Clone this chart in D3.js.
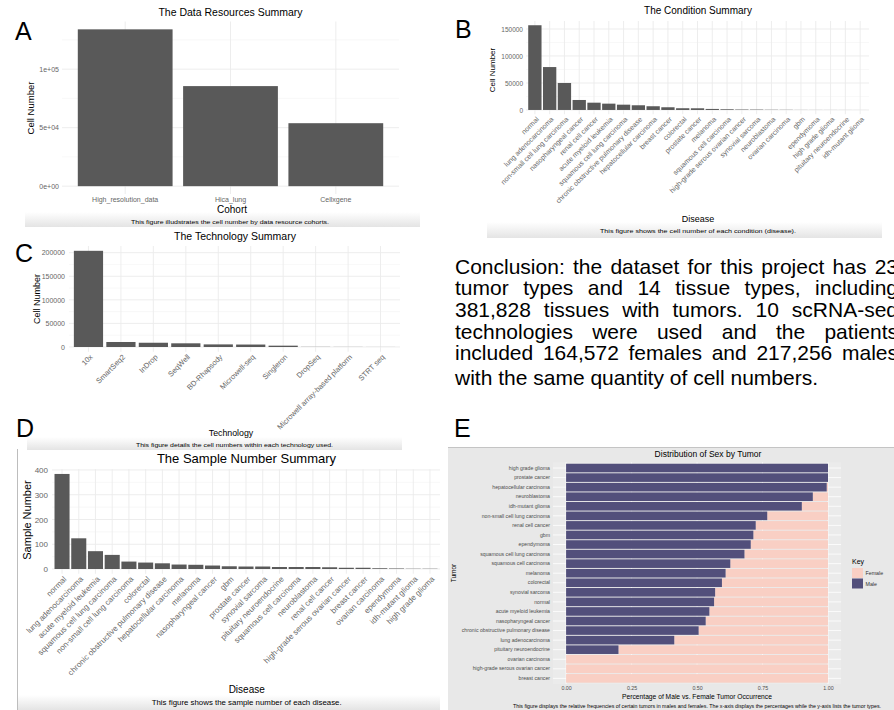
<!DOCTYPE html>
<html>
<head>
<meta charset="utf-8">
<script src="https://cdn.jsdelivr.net/npm/d3@7"></script>
<style>
  body { margin: 0; background: #fff; font-family: "Liberation Sans", Arial, sans-serif; }
  #wrap { position: relative; width: 894px; height: 710px; overflow: hidden; }
  #wrap svg { position: absolute; left: 0; top: 0; }
  .concl { position: absolute; left: 455px; width: 443px; font-size: 21px; line-height: 21px;
           text-align: justify; text-align-last: justify; color: #000; }
  .concl.last { text-align-last: left; }
</style>
</head>
<body>
<div id="wrap"></div>
<script>
// ---- data ----
const cohorts = ['High_resolution_data', 'Hica_lung', 'Cellxgene'];
const cohortCells = [134000, 85500, 53800];

const conditions = ['normal', 'lung adenocarcinoma', 'non-small cell lung carcinoma', 'nasopharyngeal cancer',
  'renal cell cancer', 'acute myeloid leukemia', 'squamous cell lung carcinoma', 'chronic obstructive pulmonary disease',
  'hepatocellular carcinoma', 'breast cancer', 'colorectal', 'prostate cancer', 'melanoma', 'squamous cell carcinoma',
  'high-grade serous ovarian cancer', 'synovial sarcoma', 'neuroblastoma', 'ovarian carcinoma', 'gbm', 'ependymoma',
  'high grade glioma', 'pituitary neuroendocrine', 'idh-mutant glioma'];
const conditionCells = [157000, 79500, 50000, 18500, 13500, 11700, 9800, 8700, 6900, 5000, 3200, 3100, 1900,
  1300, 800, 700, 400, 300, 120, 90, 70, 50, 30];

const technologies = ['10x', 'SmartSeq2', 'InDrop', 'SeqWell', 'BD-Rhapsody', 'Microwell-seq', 'Singleron',
  'DropSeq', 'Microwell array-based platform', 'STRT seq'];
const technologyCells = [204000, 10600, 9000, 7800, 5500, 5200, 2800, 300, 200, 100];

const sampleDiseases = ['normal', 'lung adenocarcinoma', 'acute myeloid leukemia', 'squamous cell lung carcinoma',
  'non-small cell lung carcinoma', 'colorectal', 'chronic obstructive pulmonary disease', 'hepatocellular carcinoma',
  'melanoma', 'nasopharyngeal cancer', 'gbm', 'prostate cancer', 'synovial sarcoma', 'pituitary neuroendocrine',
  'squamous cell carcinoma', 'neuroblastoma', 'renal cell cancer', 'high-grade serous ovarian cancer', 'breast cancer',
  'ovarian carcinoma', 'ependymoma', 'idh-mutant glioma', 'high grade glioma'];
const sampleNumbers = [384, 124, 72, 57, 30, 26, 23, 18, 17, 14, 11, 10, 10, 8, 8, 8, 7, 5, 5, 3, 2, 1, 1];

const tumors = ['high grade glioma', 'prostate cancer', 'hepatocellular carcinoma', 'neuroblastoma', 'idh-mutant glioma',
  'non-small cell lung carcinoma', 'renal cell cancer', 'gbm', 'ependymoma', 'squamous cell lung carcinoma',
  'squamous cell carcinoma', 'melanoma', 'colorectal', 'synovial sarcoma', 'normal', 'acute myeloid leukemia',
  'nasopharyngeal cancer', 'chronic obstructive pulmonary disease', 'lung adenocarcinoma', 'pituitary neuroendocrine',
  'ovarian carcinoma', 'high-grade serous ovarian cancer', 'breast cancer'];
const maleShare = [1, 1, 0.995, 0.942, 0.9, 0.768, 0.724, 0.715, 0.705, 0.681, 0.627, 0.609, 0.595, 0.569, 0.565,
  0.547, 0.533, 0.506, 0.413, 0.2, 0, 0, 0];

const sexKeys = ['Female', 'Male'];
const sexColors = ['#f9cfc4', '#524f7b'];

const conclusion = [
  'Conclusion: the dataset for this project has 23',
  'tumor types and 14 tissue types, including',
  '381,828 tissues with tumors. 10 scRNA-seq',
  'technologies were used and the patients',
  'included 164,572 females and 217,256 males',
  'with the same quantity of cell numbers.'
];
const conclusionTops = [255.5, 277.2, 298.9, 320.6, 342.3, 367];

// ---- drawing ----
const FONT = '"Liberation Sans", Arial, sans-serif';
const wrap = d3.select('#wrap');
const svg = wrap.append('svg').attr('width', 894).attr('height', 710)
  .attr('font-family', FONT);

const defs = svg.append('defs');
const grad = defs.append('linearGradient').attr('id', 'capgrad')
  .attr('x1', 0).attr('y1', 0).attr('x2', 0).attr('y2', 1);
grad.append('stop').attr('offset', 0).attr('stop-color', '#ffffff');
grad.append('stop').attr('offset', 1).attr('stop-color', '#e4e4e4');

function label(txt, x, y, size, opts = {}) {
  const t = svg.append('text').attr('x', x).attr('y', y).attr('font-size', size)
    .attr('text-anchor', opts.anchor || 'middle').attr('fill', opts.fill || '#000').text(txt);
  if (opts.rotate) t.attr('transform', `rotate(-90,${x},${y})`);
  if (opts.len) t.attr('textLength', opts.len).attr('lengthAdjust', 'spacingAndGlyphs');
  return t;
}

function barPanel(c) {
  const rows = c.cats.map((k, i) => ({ k, v: c.vals[i] }));
  const x = d3.scaleBand().domain(c.cats).range(c.xr).paddingInner(0.1).paddingOuter(0.15);
  const max = d3.max(c.vals);
  const y = d3.scaleLinear().domain([-0.05 * max, 1.05 * max]).range(c.yr);
  const [x0, x1] = c.xr, [yb, yt] = c.yr;
  const g = svg.append('g');

  g.selectAll('line.minor').data(c.minor).join('line')
    .attr('x1', x0).attr('x2', x1).attr('y1', d => y(d)).attr('y2', d => y(d))
    .attr('stroke', '#f3f3f3').attr('stroke-width', 0.6);
  g.selectAll('line.major').data(c.ticks).join('line')
    .attr('x1', x0).attr('x2', x1).attr('y1', d => y(d)).attr('y2', d => y(d))
    .attr('stroke', '#ebebeb').attr('stroke-width', 0.9);
  g.selectAll('line.vgrid').data(c.cats).join('line')
    .attr('x1', d => x(d) + x.bandwidth() / 2).attr('x2', d => x(d) + x.bandwidth() / 2)
    .attr('y1', yt).attr('y2', yb)
    .attr('stroke', '#ebebeb').attr('stroke-width', 0.9);

  g.selectAll('rect').data(rows).join('rect')
    .attr('x', d => x(d.k)).attr('width', x.bandwidth())
    .attr('y', d => y(d.v)).attr('height', d => y(0) - y(d.v))
    .attr('fill', '#595959');

  const ya = g.append('g').attr('transform', `translate(${x0},0)`)
    .call(d3.axisLeft(y).tickValues(c.ticks).tickFormat(c.fmt).tickSize(0).tickPadding(c.ypad));
  ya.select('.domain').remove();
  ya.attr('font-family', FONT).attr('font-size', c.tickSize);
  ya.selectAll('text').attr('fill', '#666');

  const xa = g.append('g').attr('transform', `translate(0,${yb})`)
    .call(d3.axisBottom(x).tickSize(0).tickPadding(c.rotate ? 2 : 3));
  xa.select('.domain').remove();
  xa.attr('font-family', FONT).attr('font-size', c.xSize);
  xa.selectAll('text').attr('fill', '#666');
  if (c.rotate) {
    xa.selectAll('text')
      .attr('x', 0).attr('y', 0).attr('dy', '0.7em')
      .attr('text-anchor', 'end')
      .attr('transform', 'translate(1,2) rotate(-45)');
  }
}

// Panel A
barPanel({
  cats: cohorts, vals: cohortCells, xr: [62, 399], yr: [194, 21.5],
  ticks: [0, 50000, 100000], minor: [25000, 75000, 125000],
  fmt: d => d3.format('.0e')(d).replace(/e([+-])(\d)$/, 'e$10$2'),
  tickSize: 7, ypad: 3, xSize: 7, rotate: false
});
svg.append('rect').attr('x', 25).attr('y', 212).attr('width', 395).attr('height', 15).attr('fill', 'url(#capgrad)');
label('The Data Resources Summary', 230.5, 15.5, 10.5);
label('Cohort', 232, 213, 10);
label('Cell Number', 34, 108, 9.5, { rotate: true });
label('This figure illudstrates the cell number by data resource cohorts.', 230, 223.5, 6.2, { len: 198 });

// Panel B
barPanel({
  cats: conditions, vals: conditionCells, xr: [526, 869], yr: [114.2, 21],
  ticks: [0, 50000, 100000, 150000], minor: [25000, 75000, 125000],
  fmt: d3.format('d'), tickSize: 6.5, ypad: 3, xSize: 7, rotate: true
});
svg.append('rect').attr('x', 487).attr('y', 222).attr('width', 395).attr('height', 16).attr('fill', 'url(#capgrad)');
label('The Condition Summary', 698, 13.5, 10);
label('Disease', 698, 221.5, 9);
label('Cell Number', 494.5, 70, 8, { rotate: true });
label('This figure shows the cell number of each condition (disease).', 698, 233, 6.2, { len: 196 });

// Panel C
barPanel({
  cats: technologies, vals: technologyCells, xr: [69, 400], yr: [351.8, 246],
  ticks: [0, 50000, 100000, 150000, 200000], minor: [25000, 75000, 125000, 175000],
  fmt: d3.format('d'), tickSize: 7, ypad: 4, xSize: 7.5, rotate: true
});
svg.append('rect').attr('x', 27).attr('y', 437).attr('width', 375).attr('height', 13).attr('fill', 'url(#capgrad)');
label('The Technology Summary', 235, 240, 10.5);
label('Technology', 231, 435.5, 8.8);
label('Cell Number', 40, 299, 9, { rotate: true });
label('This figure details the cell numbers within each technology used.', 234.5, 446.5, 6.2, { len: 197 });

// Panel D
svg.append('line').attr('x1', 17.5).attr('x2', 17.5).attr('y1', 449).attr('y2', 710)
  .attr('stroke', '#bdbdbd').attr('stroke-width', 1);
barPanel({
  cats: sampleDiseases, vals: sampleNumbers, xr: [52, 440], yr: [573.75, 469.2],
  ticks: [0, 100, 200, 300, 400], minor: [50, 150, 250, 350],
  fmt: d3.format('d'), tickSize: 8, ypad: 4, xSize: 8, rotate: true
});
svg.append('rect').attr('x', 18).attr('y', 695).attr('width', 422).attr('height', 15).attr('fill', 'url(#capgrad)');
label('The Sample Number Summary', 246.5, 462.5, 13);
label('Disease', 246.7, 693, 10);
label('Sample Number', 30.5, 520, 11, { rotate: true });
label('This figure shows the sample number of each disease.', 246.7, 705, 7, { len: 190 });

// Panel E
(function () {
  const g = svg.append('g');
  g.append('rect').attr('x', 448).attr('y', 447).attr('width', 446).attr('height', 263).attr('fill', '#e8e8e8');
  g.append('line').attr('x1', 448).attr('x2', 894).attr('y1', 447.5).attr('y2', 447.5)
    .attr('stroke', '#c4c4c4');
  const x = d3.scaleLinear().domain([-0.05, 1.05]).range([553, 841.1]);
  const y = d3.scaleBand().domain(tumors).range([462.3, 684.1]).paddingInner(0.1).paddingOuter(0.15);
  const xt = [0, 0.25, 0.5, 0.75, 1];
  g.append('rect').attr('x', 553).attr('y', 462.3).attr('width', 288.1).attr('height', 221.8).attr('fill', '#ebebeb');
  g.selectAll('line.vg').data(xt).join('line')
    .attr('x1', d => x(d)).attr('x2', d => x(d)).attr('y1', 462.3).attr('y2', 684.1)
    .attr('stroke', '#fff').attr('stroke-width', 0.8);
  g.selectAll('line.hg').data(tumors).join('line')
    .attr('x1', 553).attr('x2', 841.1)
    .attr('y1', d => y(d) + y.bandwidth() / 2).attr('y2', d => y(d) + y.bandwidth() / 2)
    .attr('stroke', '#fff').attr('stroke-width', 0.8);

  const rows = tumors.map((t, i) => ({ t, m: maleShare[i] }));
  g.selectAll('rect.f').data(rows).join('rect')
    .attr('x', d => x(d.m)).attr('width', d => x(1) - x(d.m))
    .attr('y', d => y(d.t)).attr('height', y.bandwidth()).attr('fill', sexColors[0]);
  g.selectAll('rect.m').data(rows.filter(d => d.m > 0)).join('rect')
    .attr('x', x(0)).attr('width', d => x(d.m) - x(0))
    .attr('y', d => y(d.t)).attr('height', y.bandwidth()).attr('fill', sexColors[1]);

  const ya = g.append('g').attr('transform', 'translate(553,0)')
    .call(d3.axisLeft(y).tickSize(0).tickPadding(3));
  ya.select('.domain').remove();
  ya.attr('font-family', FONT).attr('font-size', 5.2);
  ya.selectAll('text').attr('fill', '#4d4d4d');

  const xa = g.append('g').attr('transform', 'translate(0,684.1)')
    .call(d3.axisBottom(x).tickValues(xt).tickFormat(d3.format('.2f')).tickSize(0).tickPadding(2));
  xa.select('.domain').remove();
  xa.attr('font-family', FONT).attr('font-size', 5.3);
  xa.selectAll('text').attr('fill', '#4d4d4d');

  label('Distribution of Sex by Tumor', 708, 457, 8.5);
  label('Percentage of Male vs. Female Tumor Occurrence', 697, 698.5, 6.7);
  label('Tumor', 456, 573, 6.5, { rotate: true });
  label('This figure displays the relative frequencies of certain tumors in males and females. The x-axis displays the percentages while the y-axis lists the tumor types.',
    697, 708, 5, { len: 368 });

  label('Key', 852, 563.5, 7, { anchor: 'start' });
  const lg = g.selectAll('g.key').data(sexKeys).join('g')
    .attr('transform', (d, i) => `translate(852,${568 + i * 10.5})`);
  lg.append('rect').attr('width', 11).attr('height', 10).attr('fill', (d, i) => sexColors[i]);
  lg.append('text').attr('x', 13.5).attr('y', 7).attr('font-size', 5.3).attr('fill', '#333').text(d => d);
})();

// Panel letters
[['A', 15, 40], ['B', 455, 38], ['C', 15, 262], ['D', 16, 437], ['E', 454, 437]].forEach(([t, x, yy]) =>
  label(t, x, yy, 25, { anchor: 'start' }));

// Conclusion text
wrap.selectAll('div.concl').data(conclusion).join('div')
  .attr('class', (d, i) => i === conclusion.length - 1 ? 'concl last' : 'concl')
  .style('top', (d, i) => conclusionTops[i] + 'px')
  .text(d => d);
</script>
</body>
</html>
